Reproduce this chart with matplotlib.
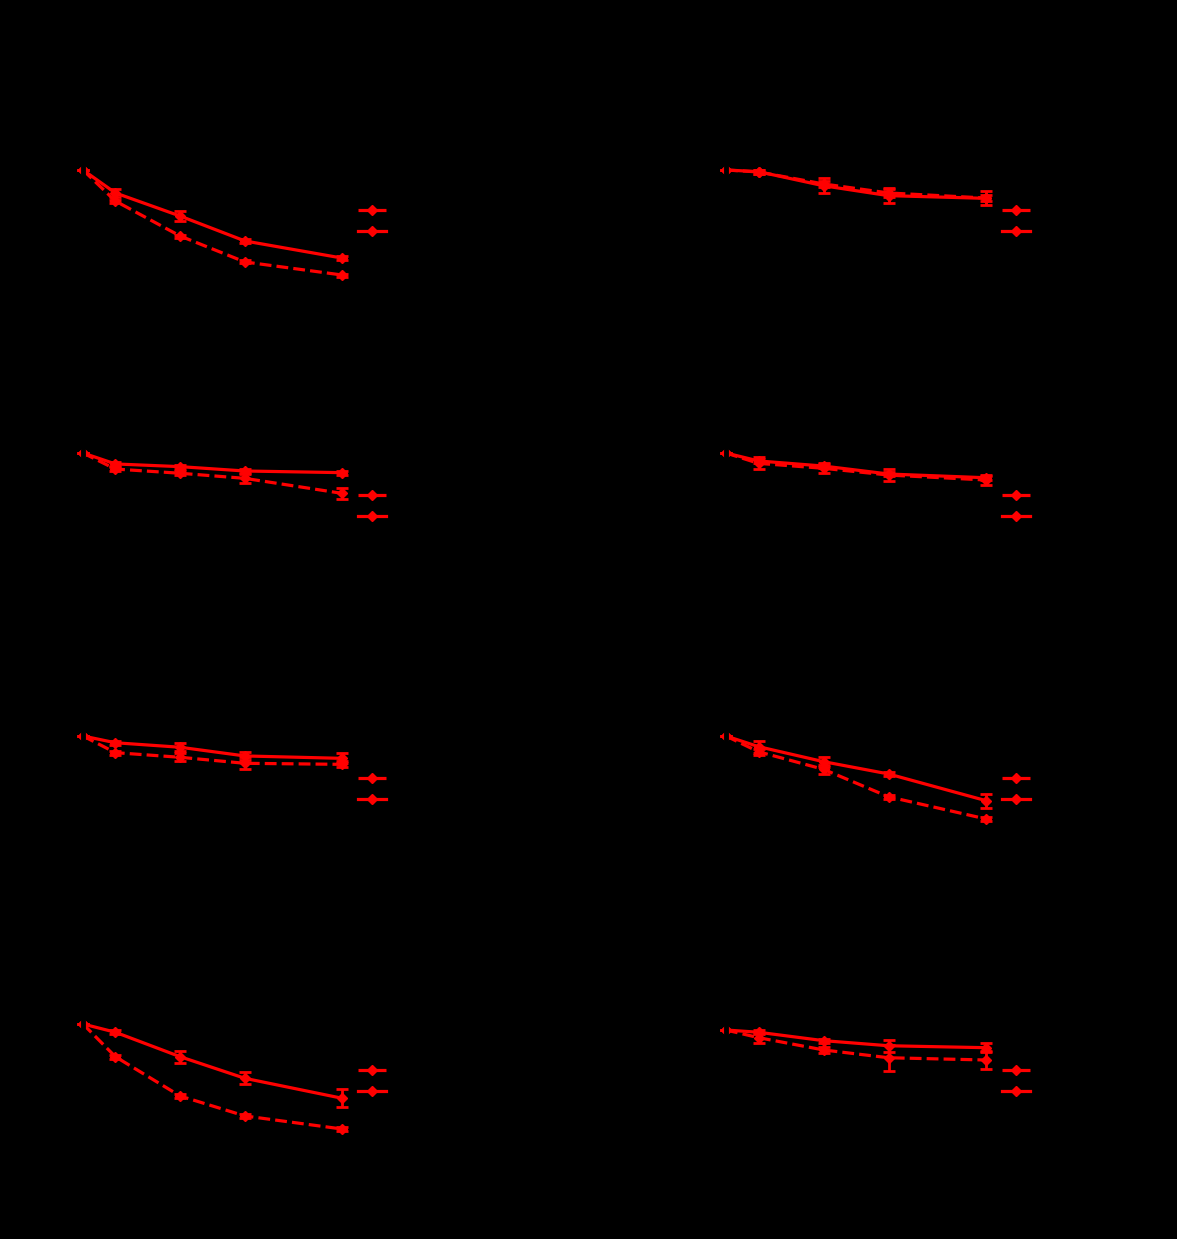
import matplotlib
matplotlib.use("Agg")
import matplotlib.pyplot as plt

# Sampling times
weeks = [0, 1, 3, 5, 8]

# Relative retention (%) for each panel: control (dashed) and treated (solid)
panel_titles = ["(a)", "(b)", "(c)", "(d)", "(e)", "(f)", "(g)", "(h)"]
series_labels = ["Control", "Treated"]

ctrl_a = [100, 79.3, 56.0, 38.7, 30.0]
ctrl_a_err = [0, 1.0, 1.0, 1.0, 1.0]
trt_a = [100, 84.7, 69.3, 52.7, 41.3]
trt_a_err = [0, 2.7, 3.3, 1.3, 1.3]

ctrl_b = [100, 98.7, 90.7, 84.7, 81.3]
ctrl_b_err = [0, 1.5, 2.0, 3.0, 2.0]
trt_b = [100, 98.9, 89.5, 82.9, 81.1]
trt_b_err = [0, 1.3, 5.0, 4.7, 4.7]

ctrl_c = [100, 89.3, 86.5, 83.1, 73.1]
ctrl_c_err = [0, 1.3, 1.3, 3.0, 3.7]
trt_c = [100, 92.7, 90.9, 88.0, 86.9]
trt_c_err = [0, 1.3, 1.3, 1.3, 1.3]

ctrl_d = [100, 93.1, 89.8, 85.3, 82.0]
ctrl_d_err = [0, 4.0, 3.3, 4.0, 3.3]
trt_d = [100, 94.7, 91.3, 86.0, 83.5]
trt_d_err = [0, 1.3, 1.3, 1.3, 1.3]

ctrl_e = [100, 88.9, 85.8, 81.8, 81.1]
ctrl_e_err = [0, 1.3, 2.7, 4.0, 2.0]
trt_e = [100, 95.5, 92.5, 86.7, 85.1]
trt_e_err = [0, 1.3, 2.7, 2.7, 3.3]

ctrl_f = [100, 89.5, 77.8, 59.5, 44.7]
ctrl_f_err = [0, 2.0, 3.0, 1.3, 1.3]
trt_f = [100, 92.9, 82.9, 74.7, 56.9]
trt_f_err = [0, 4.0, 3.3, 1.3, 4.7]

ctrl_g = [100, 78.2, 52.0, 38.7, 30.0]
ctrl_g_err = [0, 1.3, 1.3, 1.3, 1.3]
trt_g = [100, 94.5, 78.2, 63.8, 50.5]
trt_g_err = [0, 1.3, 4.0, 4.0, 6.0]

ctrl_h = [100, 94.9, 86.7, 81.5, 80.0]
ctrl_h_err = [0, 3.3, 2.0, 8.7, 6.3]
trt_h = [100, 98.5, 92.9, 89.5, 88.2]
trt_h_err = [0, 1.3, 1.3, 4.0, 3.0]

panels = [
    (ctrl_a, ctrl_a_err, trt_a, trt_a_err),
    (ctrl_b, ctrl_b_err, trt_b, trt_b_err),
    (ctrl_c, ctrl_c_err, trt_c, trt_c_err),
    (ctrl_d, ctrl_d_err, trt_d, trt_d_err),
    (ctrl_e, ctrl_e_err, trt_e, trt_e_err),
    (ctrl_f, ctrl_f_err, trt_f, trt_f_err),
    (ctrl_g, ctrl_g_err, trt_g, trt_g_err),
    (ctrl_h, ctrl_h_err, trt_h, trt_h_err),
]

W, H = 1177, 1239
fig = plt.figure(figsize=(W / 100, H / 100), dpi=100)
fig.patch.set_facecolor("black")

# Axes geometry in pixels: (left, top) for each panel, shared width/height
col_left = [83, 726]
col_width = [259, 260]
row_top = [155, 438, 721, 1015]
ax_h = 165
legend_y = [0.597, 0.597, 0.588, 0.588, 0.585, 0.585, 0.56, 0.597]

style = dict(color="red", lw=2.3, marker="D", ms=5.5, capsize=4,
             capthick=2, elinewidth=2, clip_on=False)

for i, (c, ce, t, te) in enumerate(panels):
    r, col = divmod(i, 2)
    top = row_top[r] - (6 if i == 6 else 0)
    rect = [col_left[col] / W, (H - top - ax_h) / H, col_width[col] / W, ax_h / H]
    ax = fig.add_axes(rect)
    ax.set_facecolor("black")

    h_ctrl = ax.errorbar(weeks, c, yerr=ce, ls="--", **style)
    h_trt = ax.errorbar(weeks, t, yerr=te, ls="-", **style)

    ax.set_xlim(0, 8)
    ax.set_ylim(0, 110)
    ax.set_xticks(weeks)
    ax.set_yticks([0, 20, 40, 60, 80, 100])
    for side in ("top", "right"):
        ax.spines[side].set_visible(False)
    for side in ("left", "bottom"):
        ax.spines[side].set_color("black")
        ax.spines[side].set_linewidth(3.5)
    ax.tick_params(colors="black", labelsize=10)
    ax.set_title(panel_titles[i], color="black", fontsize=12)
    ax.set_xlabel("Storage time (weeks)", color="black", fontsize=11)
    ax.set_ylabel("Retention (%)", color="black", fontsize=11)
    ax.legend([h_ctrl[0], h_trt[0]], series_labels, loc="center left",
              bbox_to_anchor=(1.014, legend_y[i]), frameon=False,
              fontsize=10, labelcolor="black")

fig.savefig("out.png", dpi=100, facecolor="black")
